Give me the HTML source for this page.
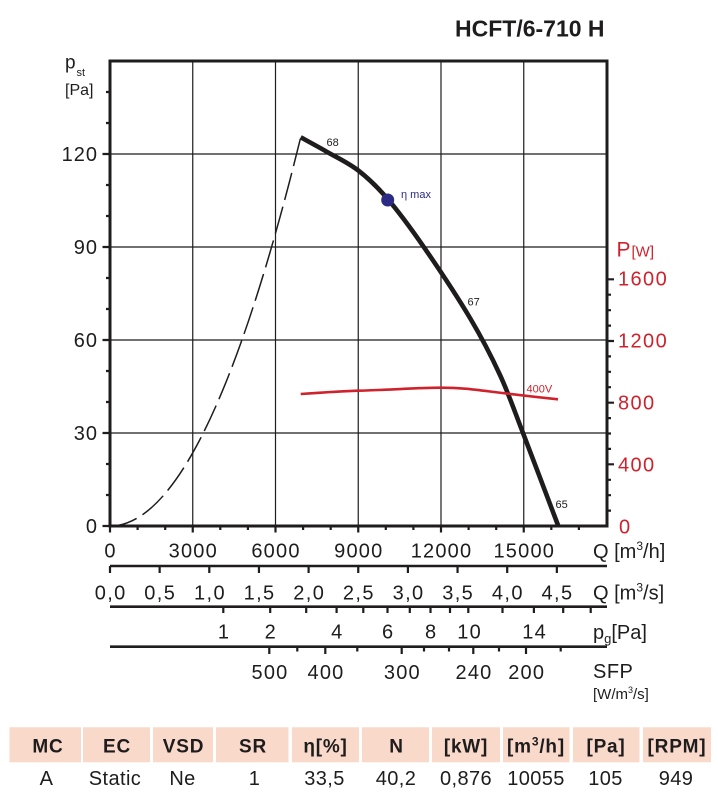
<!DOCTYPE html>
<html>
<head>
<meta charset="utf-8">
<style>
  html,body{margin:0;padding:0;background:#fff;}
  svg{display:block;}
  text{font-family:"Liberation Sans",Arial,sans-serif;fill:#1e1c1d;}
</style>
</head>
<body>
<svg width="718" height="800" viewBox="0 0 718 800" xmlns="http://www.w3.org/2000/svg">
  <!-- Title -->
  <text x="455" y="36.5" font-size="23" font-weight="bold">HCFT/6-710 H</text>

  <!-- grid -->
  <g stroke="#1e1c1d" stroke-width="1.2" fill="none">
    <path d="M192.75 61V526M275.5 61V526M358.25 61V526M441 61V526M523.75 61V526"/>
    <path d="M110 154H607M110 247H607M110 340H607M110 433H607"/>
  </g>

  <!-- frame -->
  <g stroke="#1e1c1d" stroke-width="3" fill="none" stroke-linecap="square">
    <path d="M110 61H607V526H110Z"/>
  </g>

  <!-- left ticks -->
  <g stroke="#1e1c1d" stroke-width="2.2">
    <path d="M106 495H110M106 464H110M106 402H110M106 371H110M106 309H110M106 278H110M106 216H110M106 185H110M106 123H110M106 92H110"/>
    <path d="M102.5 526H110M102.5 433H110M102.5 340H110M102.5 247H110M102.5 154H110"/>
  </g>
  <!-- right ticks -->
  <g stroke="#1e1c1d" stroke-width="2.2">
    <path d="M607 510.6H611M607 495.2H611M607 479.8H611M607 448.9H611M607 433.5H611M607 418.1H611M607 387.2H611M607 371.8H611M607 356.4H611M607 325.6H611M607 310.2H611M607 294.7H611"/>
    <path d="M607 464.3H614M607 402.7H614M607 341H614M607 279.3H614"/>
  </g>
  <!-- bottom ticks -->
  <g stroke="#1e1c1d" stroke-width="2.2">
    <path d="M137.6 526V530M165.2 526V530M220.3 526V530M247.9 526V530M303.1 526V530M330.7 526V530M385.8 526V530M413.4 526V530M468.6 526V530M496.2 526V530M551.3 526V530M578.9 526V530"/>
    <path d="M110 526V532.5M192.75 526V532.5M275.5 526V532.5M358.25 526V532.5M441 526V532.5M523.75 526V532.5"/>
  </g>

  <!-- left axis labels -->
  <g font-size="20" text-anchor="end" letter-spacing="1">
    <text x="98" y="533">0</text>
    <text x="98" y="440">30</text>
    <text x="98" y="347">60</text>
    <text x="98" y="254">90</text>
    <text x="98" y="161">120</text>
  </g>
  <!-- p_st label -->
  <text x="65" y="68.5" font-size="19">p</text>
  <text x="76.5" y="76" font-size="11">st</text>
  <text x="65" y="95" font-size="16">[Pa]</text>

  <!-- right axis labels -->
  <g font-size="20" letter-spacing="1.4">
    <text x="619" y="533.5" style="fill:#d0222c">0</text>
    <text x="618" y="471.5" style="fill:#d0222c">400</text>
    <text x="618" y="409.5" style="fill:#d0222c">800</text>
    <text x="618" y="347.5" style="fill:#d0222c">1200</text>
    <text x="618" y="285.5" style="fill:#d0222c">1600</text>
  </g>
  <text x="616.5" y="256.5" font-size="21" style="fill:#d0222c">P</text>
  <text x="631.5" y="256.5" font-size="15" style="fill:#d0222c">[W]</text>

  <!-- x axis labels Q m3/h -->
  <g font-size="20" text-anchor="middle" letter-spacing="1.2">
    <text x="110.6" y="557.7">0</text>
    <text x="193.3" y="557.7">3000</text>
    <text x="276" y="557.7">6000</text>
    <text x="358.8" y="557.7">9000</text>
    <text x="441.5" y="557.7">12000</text>
    <text x="524.3" y="557.7">15000</text>
  </g>
  <text x="593" y="558" font-size="20">Q [m<tspan font-size="12" dy="-8">3</tspan><tspan dy="8">/h]</tspan></text>

  <!-- Scale 2: m3/s -->
  <path d="M110 566H607" stroke="#1e1c1d" stroke-width="2.6"/>
  <path d="M110 566V573M159.65 566V573M209.3 566V573M258.95 566V573M308.6 566V573M358.25 566V573M407.9 566V573M457.55 566V573M507.2 566V573M556.85 566V573" stroke="#1e1c1d" stroke-width="2.2"/>
  <g font-size="20" text-anchor="middle" letter-spacing="1.4">
    <text x="110.7" y="599.5">0,0</text>
    <text x="160.3" y="599.5">0,5</text>
    <text x="210" y="599.5">1,0</text>
    <text x="259.6" y="599.5">1,5</text>
    <text x="309.3" y="599.5">2,0</text>
    <text x="358.9" y="599.5">2,5</text>
    <text x="408.6" y="599.5">3,0</text>
    <text x="458.2" y="599.5">3,5</text>
    <text x="507.9" y="599.5">4,0</text>
    <text x="557.5" y="599.5">4,5</text>
  </g>
  <text x="593" y="599.5" font-size="20">Q [m<tspan font-size="12" dy="-8">3</tspan><tspan dy="8">/s]</tspan></text>

  <!-- Scale 3: pg -->
  <path d="M110 606.7H607" stroke="#1e1c1d" stroke-width="2.6"/>
  <path d="M223.3 606.7V613M270.2 606.7V613M306.2 606.7V613M336.6 606.7V613M363.3 606.7V613M387.5 606.7V613M409.8 606.7V613M430.5 606.7V613M450 606.7V613M468.3 606.7V613M502.5 606.7V613M533.9 606.7V613M563.2 606.7V613M590.7 606.7V613" stroke="#1e1c1d" stroke-width="2.2"/>
  <g font-size="20" text-anchor="middle" letter-spacing="1.2">
    <text x="224" y="638.5">1</text>
    <text x="270.8" y="638.5">2</text>
    <text x="337.3" y="638.5">4</text>
    <text x="388.2" y="638.5">6</text>
    <text x="431.2" y="638.5">8</text>
    <text x="469.6" y="638.5">10</text>
    <text x="534.6" y="638.5">14</text>
  </g>
  <text x="593" y="639" font-size="20">p<tspan font-size="13" dy="4">g</tspan><tspan dy="-4">[Pa]</tspan></text>

  <!-- Scale 4: SFP -->
  <path d="M110 646.7H607" stroke="#1e1c1d" stroke-width="2.6"/>
  <path d="M297.3 646.7V651.5M357.3 646.7V651.5M424 646.7V651.5M449 646.7V651.5M499 646.7V651.5M560.7 646.7V651.5" stroke="#1e1c1d" stroke-width="2.2"/>
  <path d="M269.3 646.7V654M325.3 646.7V654M401.7 646.7V654M473.3 646.7V654M526 646.7V654" stroke="#1e1c1d" stroke-width="2.2"/>
  <g font-size="20" text-anchor="middle" letter-spacing="1.2">
    <text x="270" y="679">500</text>
    <text x="326" y="679">400</text>
    <text x="402.4" y="679">300</text>
    <text x="474" y="679">240</text>
    <text x="526.7" y="679">200</text>
  </g>
  <text x="593" y="678" font-size="20" letter-spacing="0.5">SFP</text>
  <text x="593" y="699" font-size="15">[W/m<tspan font-size="9" dy="-6">3</tspan><tspan dy="6">/s]</tspan></text>

  <!-- Dashed system curve -->
  <path d="M110 526Q205.35 526 300.7 137.3" fill="none" stroke="#1e1c1d" stroke-width="1.5" stroke-dasharray="28 7"/>

  <!-- Fan curve -->
  <path d="M300.7 137.3 C305.03 139.7 317.1 146.17 326.7 151.7 C336.3 157.23 348.13 162.62 358.3 170.5 C368.47 178.38 376.75 186.2 387.7 199 C398.65 211.8 410.28 227.47 424 247.3 C437.72 267.13 457.33 296.72 470 318 C482.67 339.28 491.17 355.83 500 375 C508.83 394.17 513.28 407.83 523 433 C532.72 458.17 552.42 510.5 558.3 526" fill="none" stroke="#1e1c1d" stroke-width="4.6" stroke-linejoin="round" stroke-linecap="butt"/>

  <!-- Power curve -->
  <path d="M300.7 394 C330 392 345 391 358 390.7 C390 390 420 387.5 441 387.7 C460 387.8 470 389 490 391.5 C510 394 530 396.5 558 399.3" fill="none" stroke="#d0222c" stroke-width="2.6"/>
  <text x="526.5" y="392.5" font-size="11" style="fill:#d0222c">400V</text>

  <!-- eta max -->
  <circle cx="387.7" cy="200" r="6.5" fill="#2b2a85"/>
  <text x="401" y="198" font-size="11" style="fill:#2b2a85">η max</text>

  <!-- curve labels -->
  <text x="326.5" y="146" font-size="11">68</text>
  <text x="467.5" y="305.5" font-size="11">67</text>
  <text x="555.5" y="508" font-size="11">65</text>

  <!-- Table header -->
  <g fill="#f8d9ca">
    <rect x="9.5" y="727.3" width="71.5" height="35"/>
    <rect x="83" y="727.3" width="67" height="35"/>
    <rect x="153" y="727.3" width="60" height="35"/>
    <rect x="216" y="727.3" width="72.5" height="35"/>
    <rect x="292" y="727.3" width="67" height="35"/>
    <rect x="362" y="727.3" width="67" height="35"/>
    <rect x="432" y="727.3" width="68" height="35"/>
    <rect x="503" y="727.3" width="66.5" height="35"/>
    <rect x="573" y="727.3" width="66.5" height="35"/>
    <rect x="643" y="727.3" width="68" height="35"/>
  </g>
  <g font-size="19" font-weight="bold" text-anchor="middle" letter-spacing="0.8">
    <text x="48" y="752.3">MC</text>
    <text x="117" y="752.3">EC</text>
    <text x="183.5" y="752.3">VSD</text>
    <text x="253" y="752.3">SR</text>
    <text x="325.5" y="752.3">η[%]</text>
    <text x="396.5" y="752.3">N</text>
    <text x="466" y="752.3">[kW]</text>
    <text x="536" y="752.3">[m<tspan font-size="12" dy="-7">3</tspan><tspan dy="7">/h]</tspan></text>
    <text x="606" y="752.3">[Pa]</text>
    <text x="677" y="752.3">[RPM]</text>
  </g>
  <g font-size="20" text-anchor="middle" letter-spacing="0.4">
    <text x="46.5" y="785">A</text>
    <text x="115" y="785">Static</text>
    <text x="182.5" y="785">Ne</text>
    <text x="254.5" y="785">1</text>
    <text x="324.5" y="785">33,5</text>
    <text x="396" y="785">40,2</text>
    <text x="466" y="785">0,876</text>
    <text x="536" y="785">10055</text>
    <text x="605.5" y="785">105</text>
    <text x="676" y="785">949</text>
  </g>
</svg>
</body>
</html>
